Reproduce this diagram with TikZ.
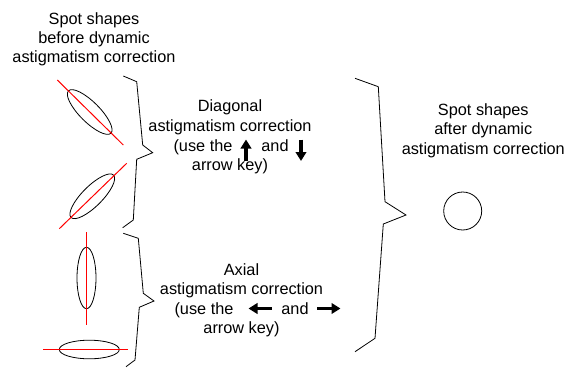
\documentclass[tikz,border=0pt]{standalone}
\usepackage{fontspec}
\setmainfont{Liberation Sans}
\usetikzlibrary{arrows.meta}
\begin{document}
\begin{tikzpicture}[x=1pt,y=-1pt,
  lbl/.style={anchor=base,inner sep=0pt,font=\fontsize{16.3}{19.5}\selectfont},
  brace/.style={draw=black,line width=0.8pt,line join=miter},
  spot/.style={draw=black,line width=0.8pt},
  axis/.style={draw=red,line width=1pt},
  keyarrow/.style={draw=black,line width=3.8pt,-{Triangle[width=10.5pt,length=9pt]}}]
\useasboundingbox (0,0) rectangle (578,367);
% top-left title
\node[lbl] (tl1) at (94,24) {Spot shapes};
\node[lbl] (tl2) at (94,43) {before dynamic};
\node[lbl] (tl3) at (94,62.3) {astigmatism correction};
% spots before correction
\draw[spot] (89.7,112) [rotate around={-45:(89.7,112)}] ellipse [x radius=30, y radius=10];
\draw[axis] (57.3,80) -- (123.3,145);
\draw[spot] (92.3,196.3) [rotate around={45:(92.3,196.3)}] ellipse [x radius=30, y radius=10];
\draw[axis] (59.3,228.7) -- (126.7,163.3);
\draw[spot] (86.5,278) ellipse [x radius=9.5, y radius=30.7];
\draw[axis] (86.5,232) -- (86.5,325);
\draw[spot] (89.3,349.5) ellipse [x radius=30, y radius=9.3];
\draw[axis] (43.3,349.5) -- (128.3,349.5);
% braces
\draw[brace] (123.3,76) -- (136.7,81.7) -- (142.7,145) -- (152.7,152.7) -- (136.7,159.3) -- (133.3,220) -- (122.7,227.7);
\draw[brace] (123.3,233.3) -- (138.3,238.3) -- (143.3,293.3) -- (154,301) -- (139.3,307.3) -- (135,360) -- (126,366.7);
\draw[brace] (355,78.3) -- (378.3,86.7) -- (385,201.7) -- (406,215) -- (383.3,224) -- (375,338.3) -- (355,351.7);
% diagonal text
\node[lbl] (d1) at (230,111.7) {Diagonal};
\node[lbl] (d2) at (230,131.7) {astigmatism correction};
\node[lbl] (d3) at (203,151) {(use the};
\node[lbl] (d4) at (275,151) {and};
\node[lbl] (d5) at (230,170.5) {arrow key)};
\draw[keyarrow] (246,161) -- (246,139.5);
\draw[keyarrow] (301,139.5) -- (301,161);
% axial text
\node[lbl] (a1) at (241.5,275) {Axial};
\node[lbl] (a2) at (241.5,294) {astigmatism correction};
\node[lbl] (a3) at (204,314) {(use the};
\node[lbl] (a4) at (295,314) {and};
\node[lbl] (a5) at (241.5,333.3) {arrow key)};
\draw[keyarrow] (271.5,308.5) -- (248.5,308.5);
\draw[keyarrow] (317,308.5) -- (340.5,308.5);
% right title
\node[lbl] (r1) at (483.3,115) {Spot shapes};
\node[lbl] (r2) at (483.3,134) {after dynamic};
\node[lbl] (r3) at (483.3,154.3) {astigmatism correction};
% spot after correction
\draw[spot] (462.7,211) circle [radius=19];
\end{tikzpicture}
\end{document}
